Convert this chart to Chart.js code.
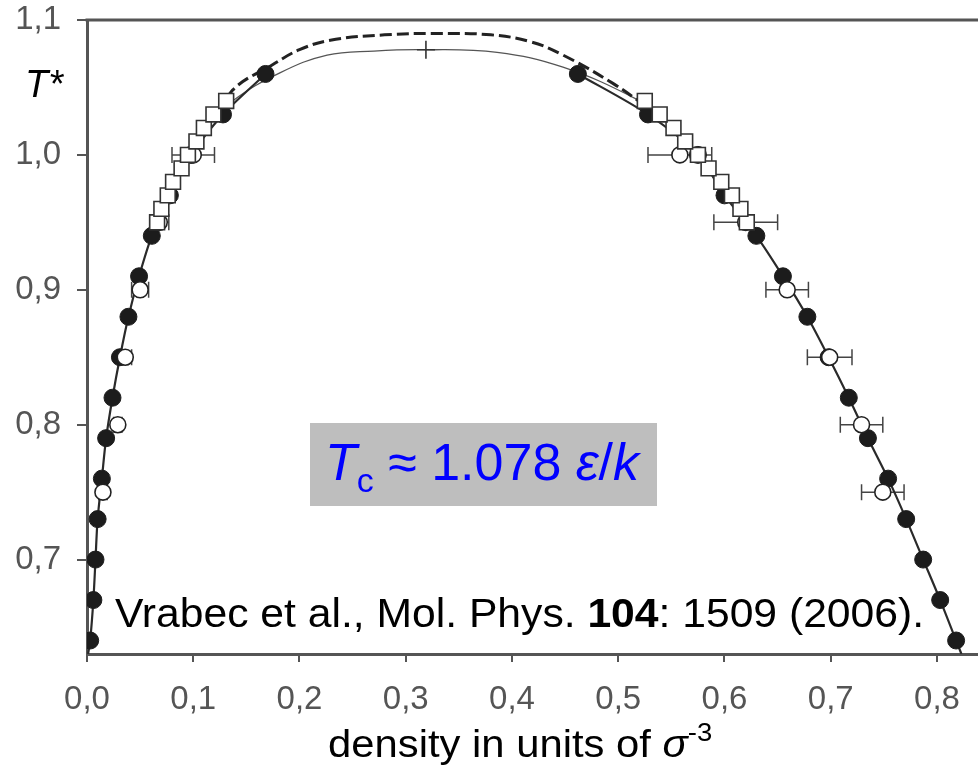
<!DOCTYPE html>
<html>
<head>
<meta charset="utf-8">
<script src="https://cdn.jsdelivr.net/npm/chart.js@4.4.1/dist/chart.umd.min.js"></script>
<style>
  html, body { margin: 0; padding: 0; background: #fff; }
  canvas { display: block; }
</style>
</head>
<body>
<canvas id="vle" width="978" height="770"></canvas>
<script>
// tick labels
const xTicks = [0, 0.1, 0.2, 0.3, 0.4, 0.5, 0.6, 0.7, 0.8];
const yTicks = [0.7, 0.8, 0.9, 1.0, 1.1];

// simulation points (filled circles): vapour and liquid density at each T
const simT = [0.64, 0.67, 0.70, 0.73, 0.76, 0.79, 0.82, 0.85, 0.88, 0.91, 0.94, 0.97, 1.00, 1.03, 1.06];
const simRhoV = [0.003, 0.006, 0.008, 0.010, 0.014, 0.018, 0.024, 0.031, 0.039, 0.049, 0.061, 0.078, 0.098, 0.128, 0.168];
const simRhoL = [0.818, 0.803, 0.787, 0.771, 0.754, 0.735, 0.717, 0.698, 0.678, 0.655, 0.630, 0.600, 0.575, 0.528, 0.462];

// open circles with horizontal error bars
const openT = [0.75, 0.80, 0.85, 0.90, 0.95, 1.00, 1.00, 0.95, 0.90, 0.85, 0.80, 0.75];
const openRho = [0.015, 0.029, 0.036, 0.050, 0.068, 0.100, 0.558, 0.620, 0.659, 0.699, 0.729, 0.749];
const openErr = [0.004, 0.004, 0.006, 0.008, 0.009, 0.020, 0.030, 0.030, 0.020, 0.021, 0.020, 0.020];

// open squares
const sqT = [0.95, 0.96, 0.97, 0.98, 0.99, 1.00, 1.01, 1.02, 1.03, 1.04];
const sqRhoV = [0.066, 0.070, 0.076, 0.081, 0.089, 0.095, 0.103, 0.110, 0.119, 0.131];
const sqRhoL = [0.621, 0.615, 0.607, 0.597, 0.585, 0.575, 0.563, 0.552, 0.539, 0.525];

// thick solid branches
const vapLineRho = [0.001, 0.003, 0.006, 0.008, 0.010, 0.014, 0.018, 0.024, 0.031, 0.039, 0.049, 0.061, 0.078, 0.098, 0.128, 0.168];
const vapLineT = [0.63, 0.64, 0.67, 0.70, 0.73, 0.76, 0.79, 0.82, 0.85, 0.88, 0.91, 0.94, 0.97, 1.00, 1.03, 1.06];
const liqLineRho = [0.462, 0.528, 0.575, 0.600, 0.630, 0.655, 0.678, 0.698, 0.717, 0.735, 0.754, 0.771, 0.787, 0.803, 0.818, 0.823];
const liqLineT = [1.06, 1.03, 1.00, 0.97, 0.94, 0.91, 0.88, 0.85, 0.82, 0.79, 0.76, 0.73, 0.70, 0.67, 0.64, 0.63];

// dashed curve over the top
const dashRho = [0.128, 0.137, 0.175, 0.200, 0.229, 0.28, 0.33, 0.38, 0.417, 0.448, 0.495, 0.528];
const dashT = [1.03, 1.048, 1.067, 1.078, 1.085, 1.089, 1.090, 1.089, 1.084, 1.074, 1.053, 1.035];

// thin curve through the critical point
const thinRho = [0.120, 0.137, 0.182, 0.226, 0.270, 0.316, 0.386, 0.448, 0.518, 0.535];
const thinT = [1.025, 1.040, 1.061, 1.074, 1.077, 1.078, 1.076, 1.065, 1.041, 1.030];

const critRho = [0.319];
const critT = [1.078];

function pts(xs, ys) {
  return xs.map((v, i) => ({ x: v, y: ys[i] }));
}
function fmt(v) {
  return v.toFixed(1).replace('.', ',');
}

Chart.defaults.font.family = "'Liberation Sans', Arial, sans-serif";

const errorBars = {
  id: 'errorBars',
  beforeDatasetsDraw(chart) {
    const ctx = chart.ctx;
    const xs = chart.scales.x, ys = chart.scales.y;
    ctx.save();
    ctx.strokeStyle = '#444';
    ctx.lineWidth = 1.5;
    openRho.forEach((r, i) => {
      const py = ys.getPixelForValue(openT[i]);
      const x0 = xs.getPixelForValue(r - openErr[i]);
      const x1 = xs.getPixelForValue(r + openErr[i]);
      ctx.beginPath();
      ctx.moveTo(x0, py); ctx.lineTo(x1, py);
      ctx.moveTo(x0, py - 8); ctx.lineTo(x0, py + 8);
      ctx.moveTo(x1, py - 8); ctx.lineTo(x1, py + 8);
      ctx.stroke();
    });
    ctx.restore();
  }
};

// draw a row of text pieces, optionally stretched horizontally
function drawRuns(ctx, x, y, runs, sx) {
  sx = sx || 1;
  ctx.save();
  ctx.translate(x, y);
  ctx.scale(sx, 1);
  let cx = 0;
  runs.forEach(r => {
    ctx.font = r.font;
    ctx.fillText(r.text, cx, r.dy || 0);
    cx += ctx.measureText(r.text).width;
  });
  ctx.restore();
}

const fam = "'Liberation Sans', Arial, sans-serif";
const labels = {
  id: 'labels',
  afterDraw(chart) {
    const ctx = chart.ctx;
    const a = chart.chartArea;
    ctx.save();
    // top frame line
    ctx.strokeStyle = '#555';
    ctx.lineWidth = 3;
    ctx.beginPath();
    ctx.moveTo(a.left - 1.5, a.top);
    ctx.lineTo(a.right, a.top);
    ctx.stroke();

    ctx.textBaseline = 'alphabetic';
    ctx.textAlign = 'left';
    ctx.fillStyle = '#000';
    // y axis title
    drawRuns(ctx, 25, 97, [{ text: 'T*', font: 'italic 38px ' + fam }]);
    // x axis title
    drawRuns(ctx, 328, 757, [
      { text: 'density in units of ', font: '38px ' + fam },
      { text: 'σ', font: 'italic 38px ' + fam },
      { text: '-3', font: '25px ' + fam, dy: -16 }
    ], 1.1);
    // citation
    drawRuns(ctx, 115, 627, [
      { text: 'Vrabec et al., Mol. Phys. ', font: '40px ' + fam },
      { text: '104', font: 'bold 40px ' + fam },
      { text: ': 1509 (2006).', font: '40px ' + fam }
    ], 1.066);
    // critical temperature box
    ctx.fillStyle = '#bebebe';
    ctx.fillRect(310, 423, 347, 83);
    ctx.fillStyle = '#0000ff';
    drawRuns(ctx, 325, 480, [
      { text: 'T', font: 'italic 52px ' + fam },
      { text: 'c', font: '34px ' + fam, dy: 12 },
      { text: ' ≈ 1.078 ', font: '52px ' + fam },
      { text: 'ε', font: 'italic 52px ' + fam },
      { text: '/', font: '52px ' + fam },
      { text: 'k', font: 'italic 52px ' + fam }
    ]);
    ctx.restore();
  }
};

const ctx = document.getElementById('vle').getContext('2d');
const vleChart = new Chart(ctx, {
  type: 'scatter',
  data: {
    datasets: [
      {
        label: 'squares',
        data: pts(sqRhoV, sqT).concat(pts(sqRhoL, sqT)),
        pointStyle: 'rect',
        pointRadius: 10.5,
        backgroundColor: '#fff',
        borderColor: '#333',
        borderWidth: 1.6,
        showLine: false
      },
      {
        label: 'open circles',
        data: pts(openRho, openT),
        pointStyle: 'circle',
        pointRadius: 8,
        backgroundColor: '#fff',
        borderColor: '#222',
        borderWidth: 1.6,
        showLine: false
      },
      {
        label: 'filled circles',
        data: pts(simRhoV, simT).concat(pts(simRhoL, simT)),
        pointStyle: 'circle',
        pointRadius: 8.5,
        backgroundColor: '#1c1c1c',
        borderColor: '#1c1c1c',
        borderWidth: 1,
        showLine: false
      },
      {
        label: 'critical point',
        data: pts(critRho, critT),
        pointStyle: 'cross',
        pointRadius: 9,
        borderColor: '#333',
        borderWidth: 1.6,
        showLine: false
      },
      {
        label: 'vapour branch',
        data: pts(vapLineRho, vapLineT),
        showLine: true, pointRadius: 0,
        borderColor: '#2a2a2a', borderWidth: 2.2, tension: 0.3
      },
      {
        label: 'liquid branch',
        data: pts(liqLineRho, liqLineT),
        showLine: true, pointRadius: 0,
        borderColor: '#2a2a2a', borderWidth: 2.2, tension: 0.3
      },
      {
        label: 'dashed',
        data: pts(dashRho, dashT),
        showLine: true, pointRadius: 0,
        borderColor: '#222', borderWidth: 3, borderDash: [12, 5], tension: 0.4
      },
      {
        label: 'thin',
        data: pts(thinRho, thinT),
        showLine: true, pointRadius: 0,
        borderColor: '#555', borderWidth: 1.3, tension: 0.4
      }
    ]
  },
  options: {
    responsive: false,
    animation: false,
    devicePixelRatio: 1,
    layout: { autoPadding: false, padding: { top: 20, right: 0, left: 0, bottom: 0 } },
    plugins: {
      legend: { display: false },
      tooltip: { enabled: false }
    },
    scales: {
      x: {
        type: 'linear',
        min: 0,
        max: 0.8386,
        afterBuildTicks: s => { s.ticks = xTicks.map(v => ({ value: v })); },
        afterFit: s => { s.height = 116; s.paddingLeft = 0; s.paddingRight = 0; },
        ticks: {
          callback: v => fmt(v),
          color: '#555',
          font: { size: 33 },
          padding: 18,
          maxRotation: 0
        },
        grid: { drawOnChartArea: false, drawTicks: true, tickLength: 8, color: '#555', lineWidth: 2 },
        border: { display: true, color: '#555', width: 3 }
      },
      y: {
        type: 'linear',
        min: 0.63,
        max: 1.1,
        afterBuildTicks: s => { s.ticks = yTicks.map(v => ({ value: v })); },
        afterFit: s => { s.width = 87; s.paddingTop = 0; s.paddingBottom = 0; },
        ticks: {
          callback: v => fmt(v),
          color: '#555',
          font: { size: 33 },
          padding: 16
        },
        grid: { drawOnChartArea: false, drawTicks: true, tickLength: 10, color: '#555', lineWidth: 2 },
        border: { display: true, color: '#555', width: 3 }
      }
    }
  },
  plugins: [errorBars, labels]
});
</script>
</body>
</html>
